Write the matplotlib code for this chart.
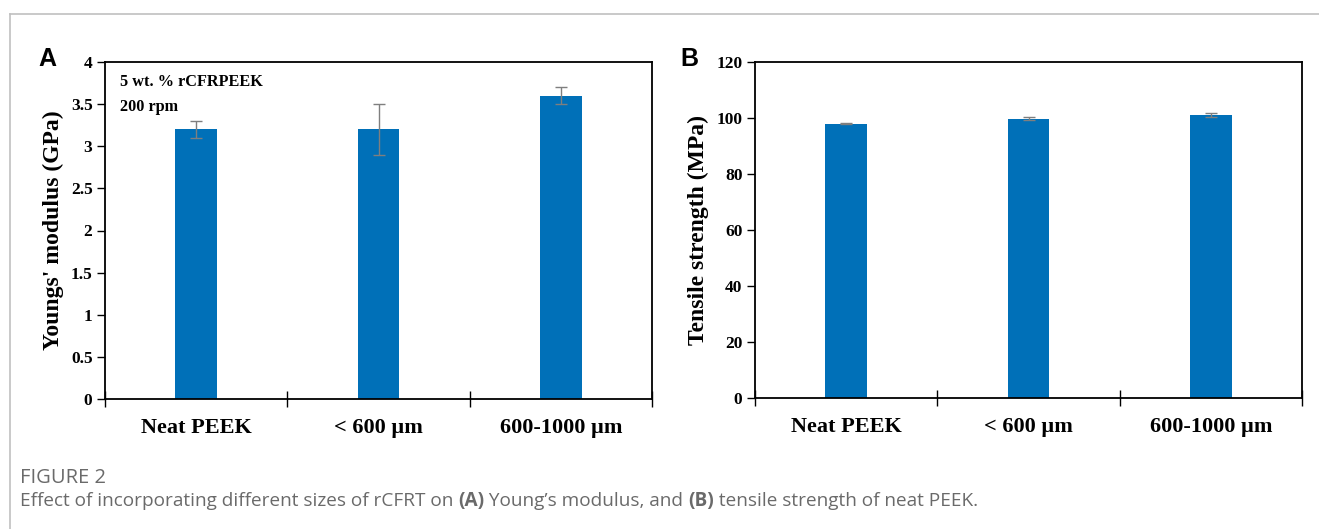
import matplotlib
matplotlib.use('Agg')
import matplotlib.pyplot as plt
from matplotlib.lines import Line2D
import numpy as np

plt.rcParams['font.family'] = ['Liberation Serif', 'DejaVu Serif']
plt.rcParams['font.weight'] = 'bold'

# data
categories = ['Neat PEEK', '< 600 µm', '600-1000 µm']
modulus = [3.2, 3.2, 3.6]
modulus_err = [0.1, 0.3, 0.1]
strength = [98.0, 99.8, 101.0]
strength_err = [0.3, 0.5, 0.8]

bar_color = '#0070b8'
err_color = '#7f7f7f'

fig = plt.figure(figsize=(13.19, 5.29), dpi=100)

# page frame lines (grey)
fig.add_artist(Line2D([10/1319, 1], [1-14/529, 1-14/529], color='#c0c0c0', lw=1.2,
                      transform=fig.transFigure))
fig.add_artist(Line2D([10/1319, 10/1319], [0, 1-14/529], color='#c0c0c0', lw=1.2,
                      transform=fig.transFigure))

axA = fig.add_axes([105/1319, 1-399/529, (652-105)/1319, (399-62)/529])
axB = fig.add_axes([755/1319, 1-398/529, (1302-755)/1319, (398-62)/529])


def style(ax, vals, errs, ymax, ystep, ylabel, fmt):
    x = np.arange(len(categories))
    ax.bar(x, vals, width=0.23, color=bar_color, zorder=2)
    ax.errorbar(x, vals, yerr=errs, fmt='none', ecolor=err_color, elinewidth=1,
                capsize=4, capthick=1, zorder=3)
    ax.set_xlim(-0.5, len(categories) - 0.5)
    ax.set_ylim(0, ymax)
    ax.set_yticks(np.arange(0, ymax + ystep / 2, ystep))
    ax.set_yticklabels([fmt(v) for v in np.arange(0, ymax + ystep / 2, ystep)],
                       fontsize=12.5, fontweight='bold')
    ax.set_xticks(np.arange(-0.5, len(categories), 1.0))
    ax.set_xticklabels([])
    ax.set_xticks(x, minor=True)
    ax.set_xticklabels(categories, minor=True, fontsize=16, fontweight='bold')
    ax.tick_params(axis='x', which='major', direction='inout', length=12, width=1)
    ax.tick_params(axis='x', which='minor', length=0, pad=14)
    ax.tick_params(axis='y', direction='out', length=6, width=1, pad=3)
    for s in ax.spines.values():
        s.set_linewidth(1.3)
    ax.set_ylabel(ylabel, fontsize=17, fontweight='bold', labelpad=5)


def fmtA(v):
    return ('%.1f' % v).rstrip('0').rstrip('.')


style(axA, modulus, modulus_err, 4, 0.5, "Youngs' modulus (GPa)", fmtA)
style(axB, strength, strength_err, 120, 20, 'Tensile strength (MPa)', lambda v: '%d' % v)

axA.text(0.027, 0.963, '5 wt. % rCFRPEEK\n200 rpm', transform=axA.transAxes,
         fontsize=11.7, fontweight='bold', va='top', ha='left', linespacing=1.7)

fig.text(38/1319, 1-59/529, 'A', fontsize=18, fontweight='bold',
         family='Liberation Sans', va='center', ha='left')
fig.text(680/1319, 1-59/529, 'B', fontsize=18, fontweight='bold',
         family='Liberation Sans', va='center', ha='left')

# caption
cap_color = '#6a6a6a'
cap_font = 'Open Sans'
fig.text(20/1319, 1-478/529, 'FIGURE 2', fontsize=14.5, color=cap_color,
         family=cap_font, fontweight='normal', va='center', ha='left')

parts = [('Effect of incorporating different sizes of rCFRT on ', 'normal'),
         ('(A)', 'bold'),
         (' Young\u2019s modulus, and ', 'normal'),
         ('(B)', 'bold'),
         (' tensile strength of neat PEEK.', 'normal')]
fig.canvas.draw()
renderer = fig.canvas.get_renderer()
xpos = 20
ypos = 1 - 501/529
for txt, w in parts:
    t = fig.text(xpos/1319, ypos, txt, fontsize=13.65, color=cap_color, family=cap_font,
                 fontweight=w, va='center', ha='left')
    bb = t.get_window_extent(renderer=renderer)
    xpos = bb.x1

fig.savefig('out.png', dpi=100)
